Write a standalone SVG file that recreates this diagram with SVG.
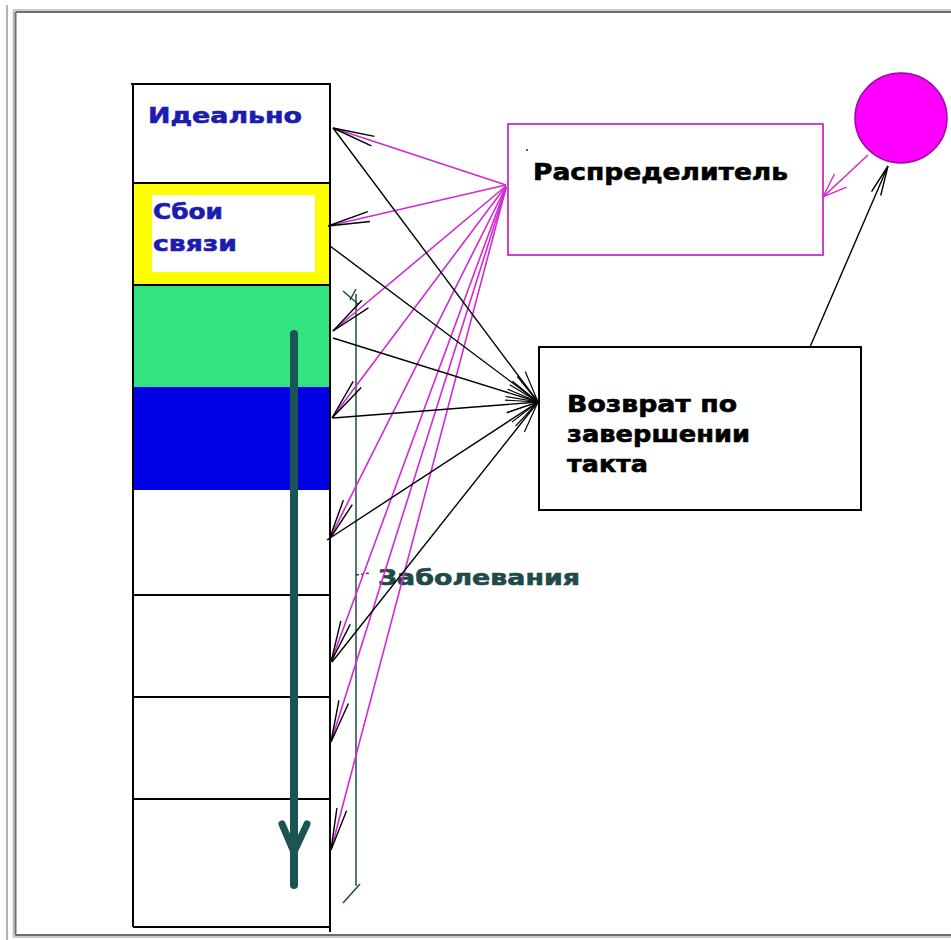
<svg xmlns="http://www.w3.org/2000/svg" width="951" height="940" viewBox="0 0 951 940">
<style>
.lbl{font-family:"DejaVu Sans","Liberation Sans",sans-serif;font-weight:bold;stroke-width:0.6}
.blue{fill:#1c1cb0;stroke:#1c1cb0;font-size:22px}
.blk{fill:#000;stroke:#000;font-size:23px}
.cell{stroke:#000;stroke-width:2}
.mg{stroke:#d22ad2;stroke-width:1.6;fill:none}
.bk{stroke:#000;stroke-width:1.4;fill:none}
</style>
<defs>
<marker id="mHead" markerUnits="userSpaceOnUse" markerWidth="90" markerHeight="30" refX="0" refY="0" viewBox="-45 -15 90 30" orient="auto" overflow="visible">
<path d="M-42,-5 L0,0 L-42,5" fill="none" stroke="#000" stroke-width="1.4"/>
</marker>
<marker id="bHead" markerUnits="userSpaceOnUse" markerWidth="80" markerHeight="30" refX="0" refY="0" viewBox="-40 -15 80 30" orient="auto" overflow="visible">
<path d="M-32,-8 L0,0 L-32,8" fill="none" stroke="#000" stroke-width="1.2"/>
</marker>
<marker id="pHead" markerUnits="userSpaceOnUse" markerWidth="60" markerHeight="40" refX="0" refY="0" viewBox="-30 -20 60 40" orient="auto" overflow="visible">
<path d="M-24,-9 L0,0 L-24,9" fill="none" stroke="#d22ad2" stroke-width="1.4"/>
</marker>
<marker id="kHead" markerUnits="userSpaceOnUse" markerWidth="60" markerHeight="40" refX="0" refY="0" viewBox="-30 -20 60 40" orient="auto" overflow="visible">
<path d="M-30,-5 L0,0 L-30,5" fill="none" stroke="#000" stroke-width="1.4"/>
</marker>
</defs>
<rect width="951" height="940" fill="#fff"/>
<g id="frame" fill="none">
<line x1="7" y1="5" x2="7" y2="940" stroke="#b4b4b4" stroke-width="2"/>
<line x1="13.5" y1="10" x2="951" y2="10" stroke="#b8b8b8" stroke-width="1.5"/>
<line x1="15.5" y1="12" x2="951" y2="12" stroke="#6e6e6e" stroke-width="2"/>
<line x1="13.5" y1="10" x2="13.5" y2="937" stroke="#b8b8b8" stroke-width="1.5"/>
<line x1="15.5" y1="12" x2="15.5" y2="935" stroke="#6e6e6e" stroke-width="2"/>
<line x1="15" y1="935" x2="951" y2="935" stroke="#6e6e6e" stroke-width="2"/>
<line x1="13" y1="937" x2="951" y2="937" stroke="#b8b8b8" stroke-width="1.5"/>
</g>
<g id="column">
<g id="cell-ideal">
<rect x="133" y="84" width="197" height="99" fill="#fff"/>
<text class="lbl blue" x="148" y="123" textLength="154" lengthAdjust="spacingAndGlyphs">Идеально</text>
</g>
<g id="cell-sboi">
<rect x="133" y="183" width="197" height="102" fill="#ffff00"/>
<rect x="152" y="195" width="163" height="77" fill="#fff"/>
<text class="lbl blue" x="153" y="219" textLength="70" lengthAdjust="spacingAndGlyphs">Сбои</text>
<text class="lbl blue" x="153" y="251" textLength="84" lengthAdjust="spacingAndGlyphs">связи</text>
</g>
<g id="cell-green"><rect x="133" y="285" width="197" height="102" fill="#33e37f"/></g>
<g id="cell-blue"><rect x="133" y="387" width="197" height="103" fill="#0000e6"/></g>
<g id="cell-w1"><rect x="133" y="490" width="197" height="105" fill="#fff"/></g>
<g id="cell-w2"><rect x="133" y="595" width="197" height="102" fill="#fff"/></g>
<g id="cell-w3"><rect x="133" y="697" width="197" height="102" fill="#fff"/></g>
<g id="cell-w4"><rect x="133" y="799" width="197" height="128" fill="#fff"/></g>
<g class="cell" fill="none">
<line x1="133" y1="84" x2="133" y2="927"/>
<line x1="330" y1="84" x2="330" y2="932"/>
<line x1="131" y1="84" x2="331" y2="84"/>
<line x1="133" y1="183" x2="331" y2="183"/>
<line x1="133" y1="285" x2="331" y2="285"/>
<line x1="133" y1="595" x2="331" y2="595"/>
<line x1="133" y1="697" x2="331" y2="697"/>
<line x1="133" y1="799" x2="331" y2="799"/>
<line x1="133" y1="927" x2="331" y2="927"/>
</g>
</g>
<g id="distributor">
<rect x="508" y="124" width="315" height="131" fill="none" stroke="#d040d0" stroke-width="2"/>
<circle cx="527" cy="150" r="1" fill="#333"/>
<text class="lbl blk" x="533" y="180" textLength="255" lengthAdjust="spacingAndGlyphs">Распределитель</text>
</g>
<g id="circle">
<ellipse cx="901" cy="118" rx="46" ry="45" fill="#ff00ff" stroke="#9a0aa8" stroke-width="1.5"/>
</g>
<g id="return">
<rect x="539" y="347" width="322" height="163" fill="#fff" stroke="#000" stroke-width="2"/>
<text class="lbl blk" x="567" y="412" textLength="170" lengthAdjust="spacingAndGlyphs">Возврат по</text>
<text class="lbl blk" x="567" y="442" textLength="183" lengthAdjust="spacingAndGlyphs">завершении</text>
<text class="lbl blk" x="567" y="472" textLength="81" lengthAdjust="spacingAndGlyphs">такта</text>
</g>
<g id="diseases" stroke="#1f4a47" fill="none" stroke-width="1.5">
<line x1="356" y1="294" x2="356" y2="886"/>
<line x1="343" y1="291" x2="358" y2="304"/>
<line x1="356" y1="289" x2="350" y2="300"/>
<line x1="360" y1="884" x2="343" y2="903"/>
<line x1="356" y1="575" x2="370" y2="573" stroke-dasharray="3 2"/>
<text class="lbl" x="378" y="585" textLength="202" lengthAdjust="spacingAndGlyphs" fill="#1f4a47" stroke="#1f4a47" stroke-width="0.6" font-size="21">Заболевания</text>
</g>
<g id="connectors">
<g class="mg" marker-end="url(#mHead)">
<line x1="506" y1="185" x2="333" y2="128"/>
<line x1="506" y1="185" x2="328" y2="226"/>
<line x1="506" y1="186" x2="333" y2="331"/>
<line x1="506" y1="186" x2="332" y2="418"/>
<line x1="506" y1="187" x2="329" y2="540"/>
<line x1="506" y1="187" x2="331" y2="662"/>
<line x1="506" y1="188" x2="331" y2="742"/>
<line x1="506" y1="188" x2="331" y2="850"/>
</g>
<g class="bk" marker-end="url(#bHead)">
<line x1="333" y1="128" x2="538" y2="402"/>
<line x1="330" y1="246" x2="538" y2="402"/>
<line x1="333" y1="338" x2="538" y2="402"/>
<line x1="333" y1="418" x2="538" y2="402"/>
<line x1="327" y1="540" x2="538" y2="402"/>
<line x1="332" y1="662" x2="538" y2="402"/>
</g>
<line class="mg" x1="868" y1="155" x2="823" y2="197" marker-end="url(#pHead)"/>
<line class="bk" x1="810" y1="347" x2="888" y2="166" marker-end="url(#kHead)"/>
</g>
<g id="timeline-arrow" stroke="#1b5552" stroke-linecap="round" fill="none">
<line x1="294" y1="334" x2="294" y2="885" stroke-width="8"/>
<polyline points="282,824 294,852 307,824" stroke-width="7" stroke-linejoin="round"/>
</g>
</svg>
